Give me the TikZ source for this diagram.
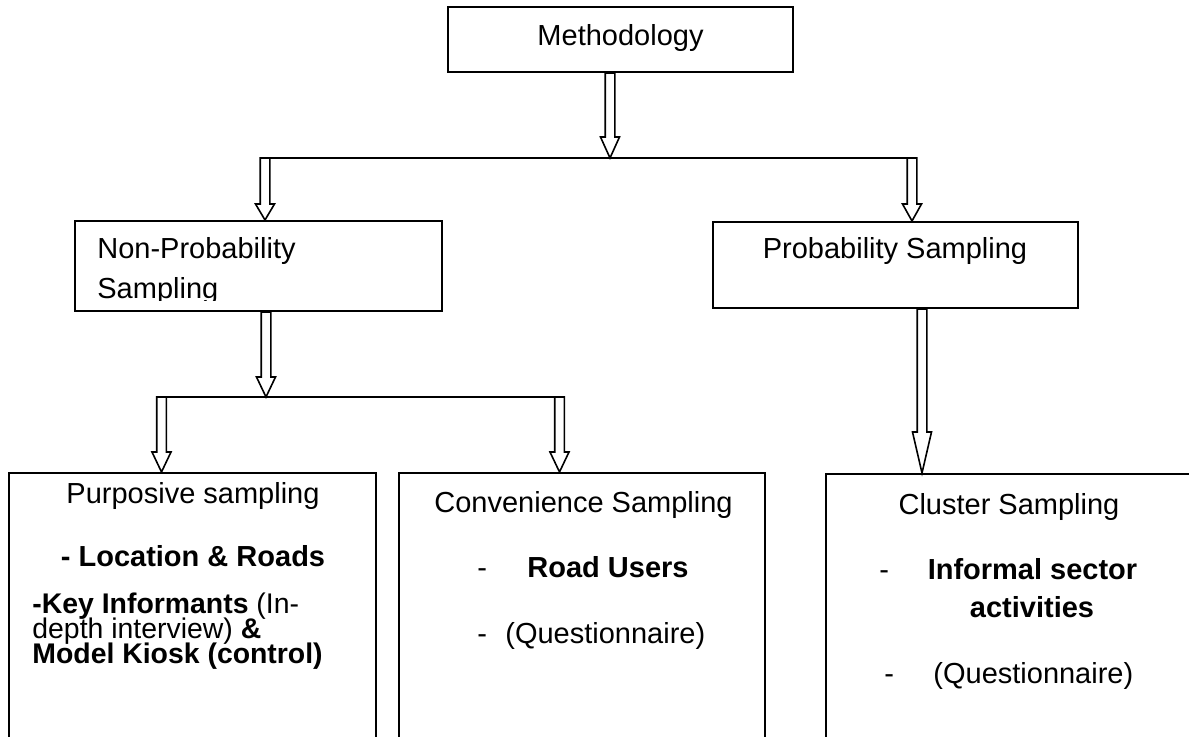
\documentclass[tikz,border=0pt]{standalone}
\usepackage{fontspec}
\setmainfont{Liberation Sans}
\usetikzlibrary{calc,fit}
\tikzset{
  box/.style={draw, line width=1pt, inner sep=0pt, rectangle},
  txt/.style={inner sep=0pt, font=\fontsize{14.5}{16}\selectfont},
  harrowstyle/.style={draw, fill=white, line width=0.8pt, line join=miter},
  hline/.style={draw, line width=1pt},
}
% hollow vertical arrow: #1 start, #2 tip, #3 head length
\newcommand\harr[3]{%
  \draw[harrowstyle] let \p1=#1, \p2=#2 in
    (\x1-2.4pt,\y1) -- (\x1-2.4pt,\y2+#3) -- (\x1-4.75pt,\y2+#3) -- (\x1,\y2)
    -- (\x1+4.75pt,\y2+#3) -- (\x1+2.4pt,\y2+#3) -- (\x1+2.4pt,\y1) -- cycle;}
\begin{document}
\begin{tikzpicture}[x=0.5pt,y=-0.5pt]
\useasboundingbox (0,0) rectangle (1189,737);
% boxes
\node[box, fit={(448,7)(793,72)}] (meth) {};
\node[box, fit={(75,221)(442,311)}] (np) {};
\node[box, fit={(713,222)(1078,308)}] (prob) {};
\node[box, fit={(9,473)(376,760)}] (purp) {};
\node[box, fit={(399,473)(765,760)}] (conv) {};
\node[box, fit={(826,474)(1200,760)}] (clus) {};
% junctions
\coordinate (j1) at (610,158);
\coordinate (jl) at (265,158);
\coordinate (jr) at (912,158);
\coordinate (j2) at (266,397);
\coordinate (jl2) at (161.5,397);
\coordinate (jr2) at (559.5,397);
\coordinate (jp) at (922,400);
% horizontal lines
\draw[hline] ([xshift=-2.4pt]jl) -- ([xshift=2.4pt]jr);
\draw[hline] ([xshift=-2.4pt]jl2) -- ([xshift=2.4pt]jr2);
% arrows
\harr{(meth.south -| j1)}{(j1)}{10.5pt}
\harr{(jl)}{(jl |- np.north)}{8pt}
\harr{(jr)}{(jr |- prob.north)}{8.5pt}
\harr{(np.south -| j2)}{(j2)}{10pt}
\harr{(jl2)}{(jl2 |- purp.north)}{10pt}
\harr{(jr2)}{(jr2 |- conv.north)}{10pt}
\harr{(prob.south -| jp)}{(jp |- clus.north)}{20.5pt}
% texts
\node[txt, anchor=base] (tmeth) at (620.5,46) {Methodology};
\node[txt, anchor=base west] (tnp1) at (97,259) {Non-Probability};
\begin{scope}
  \clip (75,221) rectangle (442,301);
  \node[txt, anchor=base west] (tnp2) at (97,299) {Sampling};
\end{scope}
\node[txt, anchor=base] (tprob) at (895,259) {Probability Sampling};
\node[txt, anchor=base] (tpurp) at (193,503) {Purposive sampling};
\node[txt, anchor=base] (tloc) at (193,567) {\bfseries - Location \& Roads};
\node[txt, anchor=base west, font=\fontsize{14.2}{16}\selectfont] (tkey) at (32,613) {\vtop{\baselineskip=12.5pt\lineskiplimit=-\maxdimen
  \hbox{\textbf{-Key Informants} (In-}
  \hbox{depth interview) \textbf{\&}}
  \hbox{\textbf{Model Kiosk (control)}}}};
\node[txt, anchor=base] (tconv) at (583.5,513) {Convenience Sampling};
\node[txt, anchor=base west] (dc1) at (477,577) {-};
\node[txt, anchor=base west] (troad) at (527,577) {\textbf{Road Users}};
\node[txt, anchor=base west] (dc2) at (477,643) {-};
\node[txt, anchor=base west] (tq1) at (505,643) {(Questionnaire)};
\node[txt, anchor=base] (tclus) at (1009,515) {Cluster Sampling};
\node[txt, anchor=base west] (dk1) at (879,579) {-};
\node[txt, anchor=base] (tinf1) at (1032.5,579) {\textbf{Informal sector}};
\node[txt, anchor=base] (tinf2) at (1032,617) {\textbf{activities}};
\node[txt, anchor=base west] (dk2) at (884,683) {-};
\node[txt, anchor=base west] (tq2) at (933,683) {(Questionnaire)};
\end{tikzpicture}
\end{document}
